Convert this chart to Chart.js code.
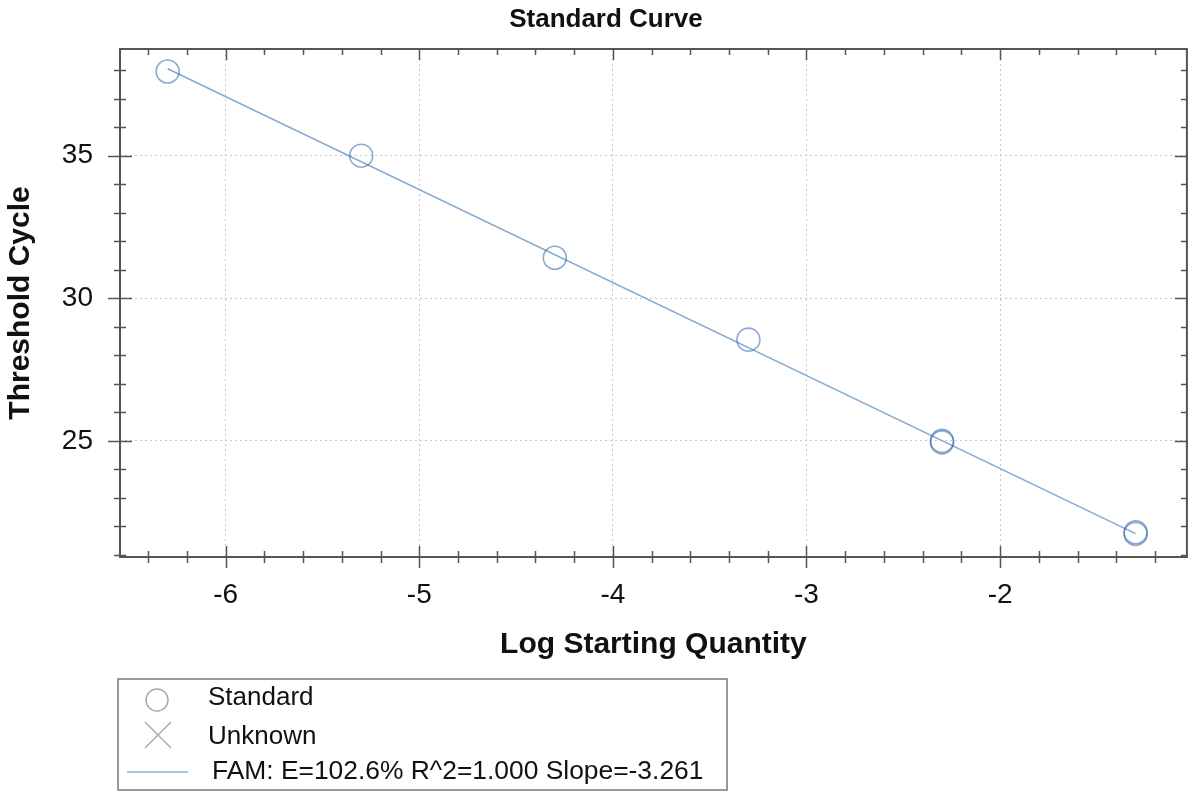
<!DOCTYPE html>
<html><head><meta charset="utf-8">
<script src="https://cdn.jsdelivr.net/npm/chart.js@4"></script>
<style>
html,body{margin:0;padding:0;background:#fff;}
#wrap{position:relative;width:1200px;height:796px;overflow:hidden;background:#fff;}
#c{position:absolute;left:0;top:0;}
#ov{position:absolute;left:0;top:0;pointer-events:none;font-family:"Liberation Sans",Arial,sans-serif;}
</style></head><body>
<div id="wrap">
<canvas id="c" width="1200" height="796"></canvas>
<svg id="ov" width="1200" height="796" xmlns="http://www.w3.org/2000/svg"></svg>
</div>
<script>
// ---- data ----
const chartTitle = "Standard Curve";
const xAxisTitle = "Log Starting Quantity";
const yAxisTitle = "Threshold Cycle";
const logQty   = [-6.3, -5.3, -4.3, -3.3, -2.3, -2.3, -1.3, -1.3];
const ctValues = [37.95, 35.0, 31.42, 28.55, 25.0, 24.95, 21.8, 21.74];
const fitX = [-6.3, -1.3];
const fitY = [38.05, 21.75];
const xTicks = [-6, -5, -4, -3, -2];
const yTicks = [25, 30, 35];
const legendLabels = ["Standard", "Unknown", "FAM: E=102.6% R^2=1.000 Slope=-3.261"];

const FONT = '"Liberation Sans", Arial, sans-serif';

const frameTicks = {
  id: 'frameTicks',
  afterDraw(chart) {
    const {ctx, chartArea: a, scales: {x, y}} = chart;
    ctx.save();
    ctx.strokeStyle = '#555';
    ctx.lineWidth = 1.5;
    ctx.beginPath();
    for (let k = Math.ceil(x.min * 5); k <= Math.floor(x.max * 5); k++) {
      const px = Math.round(x.getPixelForValue(k / 5)) + 0.5;
      const major = k % 5 === 0;
      const L = major ? 11 : 6;
      ctx.moveTo(px, a.bottom - L); ctx.lineTo(px, a.bottom + L);
      ctx.moveTo(px, a.top); ctx.lineTo(px, a.top + L);
    }
    for (let k = Math.ceil(y.min); k <= Math.floor(y.max); k++) {
      const py = Math.round(y.getPixelForValue(k)) + 0.5;
      const major = k % 5 === 0;
      const L = major ? 12 : 6;
      ctx.moveTo(a.left - L, py); ctx.lineTo(a.left + L, py);
      ctx.moveTo(a.right, py); ctx.lineTo(a.right - L, py);
    }
    ctx.stroke();
    ctx.lineWidth = 2;
    ctx.strokeRect(a.left, a.top, a.right - a.left, a.bottom - a.top);
    ctx.restore();
  }
};

new Chart(document.getElementById('c'), {
  type: 'scatter',
  data: {
    datasets: [
      {
        label: 'Standard',
        data: logQty.map((v, i) => ({x: v, y: ctValues[i]})),
        pointStyle: 'circle',
        pointRadius: 11.5,
        pointBorderWidth: 1.6,
        borderColor: 'rgba(45,100,170,0.55)',
        pointBorderColor: 'rgba(45,100,170,0.55)',
        pointBackgroundColor: 'rgba(255,255,255,0)',
        showLine: false
      },
      {
        label: 'FAM',
        type: 'line',
        data: fitX.map((v, i) => ({x: v, y: fitY[i]})),
        borderColor: '#86aad2',
        borderWidth: 1.6,
        pointRadius: 0,
        fill: false,
        tension: 0
      }
    ]
  },
  options: {
    responsive: false,
    animation: false,
    devicePixelRatio: 1,
    layout: {padding: {top: 49, right: 5, bottom: 129, left: 0}},
    plugins: {legend: {display: false}, title: {display: false}, tooltip: {enabled: false}},
    scales: {
      x: {
        type: 'linear',
        min: -6.546, max: -1.035,
        afterBuildTicks: s => { s.ticks = xTicks.map(v => ({value: v})); },
        afterFit: s => { s.height = 110; },
        ticks: {font: {family: FONT, size: 28}, color: '#111', padding: 21, callback: v => String(v)},
        grid: {color: '#c8c8c8', lineWidth: 1, drawTicks: false},
        border: {display: false, dash: [2, 3]},
        title: {display: true, text: xAxisTitle, color: '#111', font: {family: FONT, size: 30, weight: 'bold'}, padding: {top: 0, bottom: 4}}
      },
      y: {
        type: 'linear',
        min: 20.93, max: 38.74,
        afterBuildTicks: s => { s.ticks = yTicks.map(v => ({value: v})); },
        afterFit: s => { s.width = 120; },
        ticks: {font: {family: FONT, size: 28}, color: '#111', padding: 27, callback: v => String(v)},
        grid: {color: '#c8c8c8', lineWidth: 1, drawTicks: false},
        border: {display: false, dash: [2, 3]},
        title: {display: true, text: yAxisTitle, color: '#111', font: {family: FONT, size: 30, weight: 'bold'}, padding: {top: 3, bottom: 0}}
      }
    }
  },
  plugins: [frameTicks]
});

// ---- title and legend box (SVG overlay, real text) ----
const NS = 'http://www.w3.org/2000/svg';
const ov = document.getElementById('ov');
function el(tag, attrs, text) {
  const e = document.createElementNS(NS, tag);
  for (const k in attrs) e.setAttribute(k, attrs[k]);
  if (text !== undefined) e.textContent = text;
  ov.appendChild(e);
  return e;
}
el('text', {x: 606, y: 27, 'text-anchor': 'middle', 'font-size': 26, 'font-weight': 'bold', fill: '#111'}, chartTitle);
el('rect', {x: 118, y: 679, width: 609, height: 111, fill: 'none', stroke: '#777', 'stroke-width': 1.5});
el('circle', {cx: 157, cy: 700, r: 11, fill: 'none', stroke: '#aaa', 'stroke-width': 1.5});
el('text', {x: 208, y: 705, 'font-size': 26, fill: '#111'}, legendLabels[0]);
el('path', {d: 'M145 722 L171 748 M171 722 L145 748', stroke: '#aaa', 'stroke-width': 1.5, fill: 'none'});
el('text', {x: 208, y: 744, 'font-size': 26, fill: '#111'}, legendLabels[1]);
el('line', {x1: 127, y1: 772, x2: 188, y2: 772, stroke: '#8db0d6', 'stroke-width': 1.6});
el('text', {x: 212, y: 779, 'font-size': 26.4, fill: '#111'}, legendLabels[2]);
</script>
</body></html>
